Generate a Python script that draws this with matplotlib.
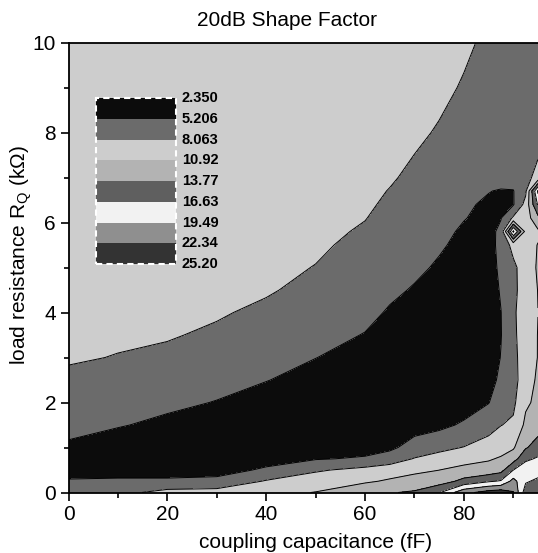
import numpy as np
import matplotlib
matplotlib.use('Agg')
import matplotlib.pyplot as plt
from matplotlib.patches import Rectangle

plt.rcParams['font.family'] = ['Liberation Sans', 'DejaVu Sans']

# coupling capacitance (fF) grid nodes and load resistance (kOhm) grid nodes
cap = [0, 10, 20, 30, 40, 50, 60, 65, 70, 75, 80, 85, 87.5, 90, 92.5, 95]
res = [0, 0.25, 0.5, 0.75, 1.0, 1.5, 2.0, 2.5, 3.0, 3.5, 4.0, 4.5, 5.0, 5.5,
       5.8, 6.1, 6.4, 6.7, 7.0, 8.0, 9.0, 10.0]

# 20 dB shape factor, one column per coupling capacitance (values along res)
sf_c00 = [7.0, 5.5, 4.0, 3.6, 4.6, 6.38, 7.0, 7.6, 8.3, 8.6, 8.8, 8.95, 9.05, 9.15, 9.2, 9.25, 9.3, 9.35, 9.4, 9.5, 9.65, 9.8]
sf_c10 = [7.2, 5.6, 4.2, 3.6, 3.8, 5.4, 6.2, 7.0, 7.98, 8.4, 8.7, 8.85, 8.95, 9.05, 9.1, 9.15, 9.2, 9.25, 9.3, 9.45, 9.6, 9.75]
sf_c20 = [9.0, 5.6, 4.2, 3.6, 3.6, 4.6, 5.8, 6.7, 7.6, 8.25, 8.6, 8.8, 8.95, 9.05, 9.1, 9.15, 9.2, 9.25, 9.3, 9.4, 9.55, 9.7]
sf_c30 = [9.2, 5.9, 4.2, 3.5, 3.3, 3.9, 5.1, 6.1, 6.9, 7.7, 8.3, 8.6, 8.8, 8.95, 9.0, 9.05, 9.1, 9.15, 9.2, 9.35, 9.5, 9.65]
sf_c40 = [10.2, 8.3, 5.6, 4.2, 3.5, 3.2, 4.0, 5.3, 6.2, 7.0, 7.6, 8.3, 8.6, 8.75, 8.8, 8.85, 8.9, 8.95, 9.0, 9.15, 9.3, 9.45]
sf_c50 = [11.0, 9.6, 7.7, 5.0, 3.9, 3.1, 3.3, 4.2, 5.25, 6.1, 6.8, 7.4, 8.0, 8.4, 8.55, 8.65, 8.72, 8.78, 8.85, 9.0, 9.1, 9.2]
sf_c60 = [13.2, 10.5, 8.9, 5.5, 4.2, 3.2, 3.0, 3.4, 4.2, 5.1, 5.9, 6.5, 7.0, 7.5, 7.85, 8.12, 8.33, 8.48, 8.6, 8.8, 8.9, 9.0]
sf_c65 = [13.6, 11.3, 9.5, 6.6, 4.6, 3.5, 3.0, 3.0, 3.4, 4.1, 4.95, 5.7, 6.3, 6.9, 7.2, 7.5, 7.77, 8.0, 8.25, 8.6, 8.75, 8.85]
sf_c70 = [14.1, 12.0, 10.3, 8.2, 6.4, 4.0, 3.2, 3.0, 3.2, 3.7, 4.3, 5.0, 5.7, 6.3, 6.6, 6.9, 7.2, 7.45, 7.7, 8.4, 8.6, 8.7]
sf_c75 = [16.4, 12.5, 10.9, 9.0, 7.4, 4.5, 3.4, 3.0, 3.0, 3.3, 3.8, 4.3, 4.9, 5.5, 5.8, 6.1, 6.4, 6.7, 7.0, 7.9, 8.5, 8.7]
sf_c80 = [21.5, 14.5, 11.9, 9.67, 8.15, 5.6, 3.8, 3.2, 3.0, 3.0, 3.2, 3.5, 4.0, 4.6, 4.9, 5.3, 5.6, 5.9, 6.3, 7.2, 7.9, 8.4]
sf_c85 = [23.5, 16.3, 12.0, 10.65, 9.0, 7.2, 5.1, 4.0, 3.6, 3.5, 3.5, 3.6, 3.8, 4.2, 4.4, 4.6, 4.8, 5.3, 5.8, 6.6, 7.2, 7.7]
sf_c875 = [24.0, 16.9, 12.8, 11.2, 9.9, 8.0, 6.8, 5.9, 5.3, 5.1, 5.15, 5.5, 5.9, 6.0, 5.8, 5.1, 4.7, 5.0, 6.4, 7.0, 7.2, 7.4]
sf_c90 = [22.5, 20.5, 16.6, 12.5, 10.6, 8.5, 7.5, 7.0, 7.3, 7.6, 7.7, 7.6, 7.4, 9.0, 20.0, 8.5, 5.0, 5.1, 6.3, 7.0, 7.2, 7.3]
sf_c925 = [15.0, 17.0, 18.5, 16.0, 13.5, 11.5, 10.5, 9.8, 9.5, 9.3, 9.3, 9.0, 9.6, 10.0, 10.0, 9.5, 9.0, 7.5, 7.4, 7.0, 7.0, 7.1]
sf_c95 = [14.0, 16.0, 18.0, 17.0, 15.0, 12.5, 11.5, 11.3, 11.0, 11.0, 10.9, 11.0, 11.2, 11.0, 10.5, 13.0, 17.0, 20.0, 8.8, 7.0, 6.9, 6.9]

levels = [2.350, 5.206, 8.063, 10.92, 13.77, 16.63, 19.49, 22.34, 25.20]
level_labels = ['2.350', '5.206', '8.063', '10.92', '13.77', '16.63', '19.49', '22.34', '25.20']
band_colors = ['#0c0c0c', '#6b6b6b', '#cdcdcd', '#b3b3b3', '#5f5f5f', '#f2f2f2', '#8f8f8f', '#333333']

Z = np.array([sf_c00, sf_c10, sf_c20, sf_c30, sf_c40, sf_c50, sf_c60, sf_c65,
              sf_c70, sf_c75, sf_c80, sf_c85, sf_c875, sf_c90, sf_c925, sf_c95]).T
X, Y = np.meshgrid(cap, res)

W, H = 538, 553
fig = plt.figure(figsize=(W / 100, H / 100), dpi=100)
ax = fig.add_axes([68.5 / W, 60.5 / H, (W - 68.5) / W, 450 / H])

ax.contourf(X, Y, Z, levels=levels, colors=band_colors)
ax.contour(X, Y, Z, levels=levels, colors='k', linewidths=0.7)

ax.set_xlim(0, 95)
ax.set_ylim(0, 10)
ax.set_xticks([0, 20, 40, 60, 80])
ax.set_xticks([10, 30, 50, 70, 90], minor=True)
ax.set_yticks([0, 2, 4, 6, 8, 10])
ax.set_yticks([1, 3, 5, 7, 9], minor=True)
ax.tick_params(which='major', direction='out', length=6, width=1.2, labelsize=15, pad=3)
ax.tick_params(which='minor', direction='out', length=3.5, width=1.2)
for s in ['left', 'bottom', 'top']:
    ax.spines[s].set_linewidth(1.3)
ax.spines['right'].set_visible(False)

fig.text(287 / W, 1 - 20 / H, '20dB Shape Factor', ha='center', va='center', fontsize=15)
fig.text(316 / W, 1 - 542 / H, 'coupling capacitance (fF)', ha='center', va='center', fontsize=15)
fig.text(21 / W, 1 - 255 / H, 'load resistance R$_\\mathregular{Q}$ (k\u03a9)', ha='center',
         va='center', rotation=90, fontsize=15)

# colour legend
lx0, lx1 = 0.0586, 0.229
ltop, lbot = 0.876, 0.508
nb = len(band_colors)
h = (ltop - lbot) / nb
for i, c in enumerate(band_colors):
    ax.add_patch(Rectangle((lx0, ltop - (i + 1) * h), lx1 - lx0, h, transform=ax.transAxes,
                           facecolor=c, edgecolor='none', zorder=5))
ax.add_patch(Rectangle((lx0, lbot), lx1 - lx0, ltop - lbot, transform=ax.transAxes,
                       facecolor='none', edgecolor='white', linestyle=(0, (3, 2)),
                       linewidth=1.5, zorder=6))
for i, lab in enumerate(level_labels):
    ax.text(lx1 + 0.012, ltop - i * h, lab, transform=ax.transAxes, ha='left', va='center',
            fontsize=10.5, fontweight='bold', zorder=7)

fig.savefig('out.png', dpi=100)
